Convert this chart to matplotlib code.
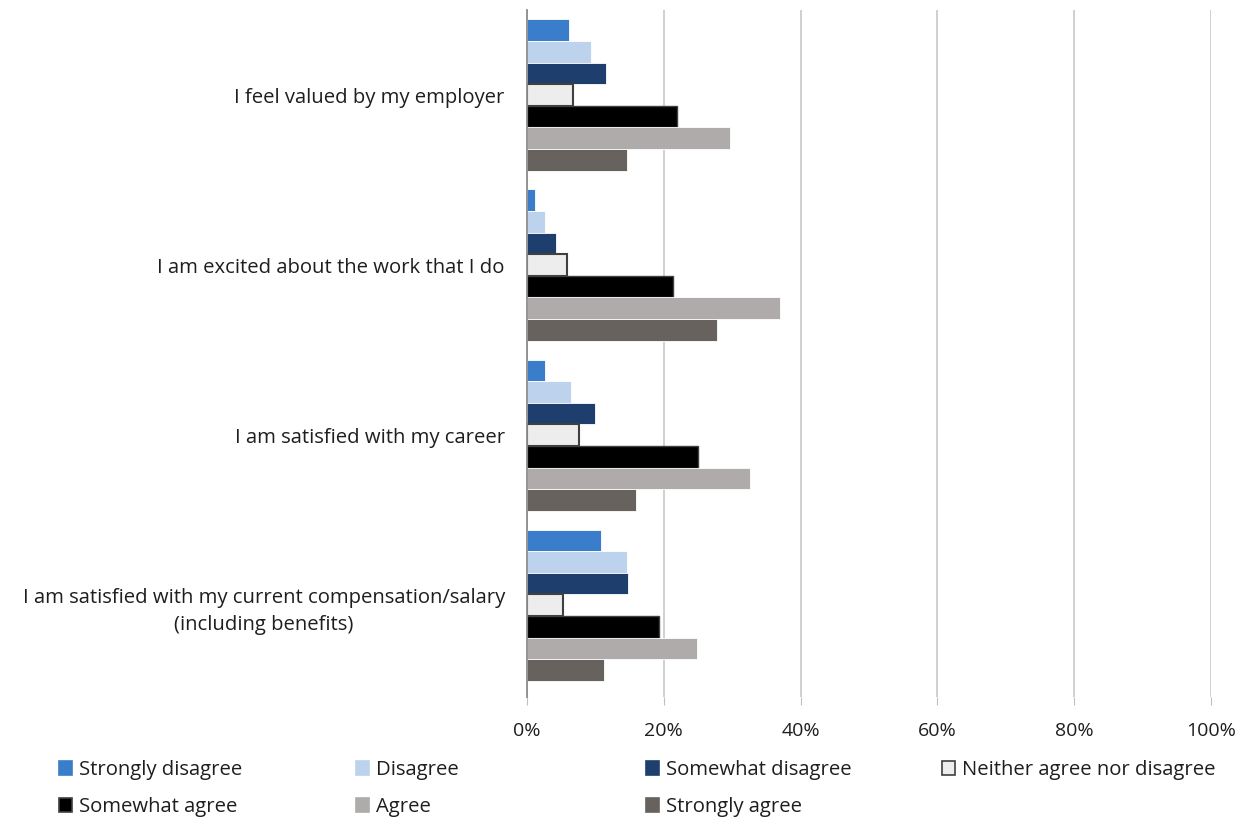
import numpy as np
import matplotlib.pyplot as plt
import matplotlib.patches as mpatches
from matplotlib.ticker import PercentFormatter

plt.rcParams['font.family'] = ['Open Sans', 'DejaVu Sans']

# statements, top to bottom
statements = ["I feel valued by my employer",
              "I am excited about the work that I do",
              "I am satisfied with my career",
              "I am satisfied with my current compensation/salary\n(including benefits)"]

responses = ["Strongly disagree", "Disagree", "Somewhat disagree",
             "Neither agree nor disagree", "Somewhat agree", "Agree", "Strongly agree"]

# percent of respondents, one list per response, in statement order
strongly_disagree = [6.1, 1.1, 2.6, 10.8]
disagree = [9.4, 2.7, 6.5, 14.6]
somewhat_disagree = [11.5, 4.3, 10.0, 14.7]
neither = [6.7, 5.9, 7.6, 5.3]
somewhat_agree = [22.0, 21.4, 25.0, 19.3]
agree = [29.7, 37.0, 32.6, 24.8]
strongly_agree = [14.6, 27.8, 16.0, 11.3]

series = [strongly_disagree, disagree, somewhat_disagree, neither,
          somewhat_agree, agree, strongly_agree]
colors = ['#3A7DCA', '#BDD2EC', '#1E3F6D', '#EDEDED', '#000000', '#AFABAB', '#67625E']
edges = ['white', 'white', 'white', '#404040', '#404040', 'white', 'white']
lws = [0.6, 0.6, 0.6, 1.5, 1.0, 0.6, 0.6]

fig = plt.figure(figsize=(12.5, 8.21), dpi=100)
ax = fig.add_axes([527 / 1250, 1 - 697 / 821, 684 / 1250, 687 / 821])

n = len(statements)
bar_h = 0.127
y_base = np.arange(n)
for i, (vals, c, ec, lw) in enumerate(zip(series, colors, edges, lws)):
    offs = (i - 3) * bar_h
    ax.barh(y_base + offs, np.array(vals) / 100, height=bar_h, color=c,
            edgecolor=ec, linewidth=lw, label=responses[i], zorder=3)

ax.set_ylim(n - 0.5 + 0.04, -0.5)
ax.set_xlim(0, 1.0)
ax.set_yticks(y_base)
ax.set_yticklabels(statements, fontsize=14.6, color='#1E1E1E',
                   multialignment='center', linespacing=1.5)
ax.set_xticks(np.arange(0, 1.01, 0.2))
ax.xaxis.set_major_formatter(PercentFormatter(1.0, decimals=0))
ax.tick_params(axis='x', labelsize=14, colors='#1E1E1E', length=6,
               color='#BFBFBF', pad=12)
ax.tick_params(axis='y', length=0, pad=16)
ax.grid(axis='x', color='#C8C8C8', linewidth=1.2, zorder=0)
for s in ['top', 'right', 'bottom']:
    ax.spines[s].set_visible(False)
ax.spines['left'].set_color('#8C8C8C')
ax.spines['left'].set_linewidth(1.3)
ax.spines['left'].set_zorder(4)

# legend laid out as a 4-column grid, row by row
handles = [mpatches.Patch(facecolor=c, edgecolor=(ec if ec != 'white' else c), linewidth=1.2)
           for c, ec in zip(colors, edges)]
col_x = [59, 356, 646, 942]
for k, x in enumerate(col_x):
    idx = [j for j in (k, k + 4) if j < len(responses)]
    fig.legend([handles[j] for j in idx], [responses[j] for j in idx],
               loc='upper left', bbox_to_anchor=(x / 1250, 1 - 760 / 821),
               frameon=False, fontsize=14.6, handlelength=0.65, handleheight=0.65,
               handletextpad=0.35, labelspacing=0.85, borderpad=0, borderaxespad=0,
               labelcolor='#1E1E1E')

fig.savefig('out.png', dpi=100)
